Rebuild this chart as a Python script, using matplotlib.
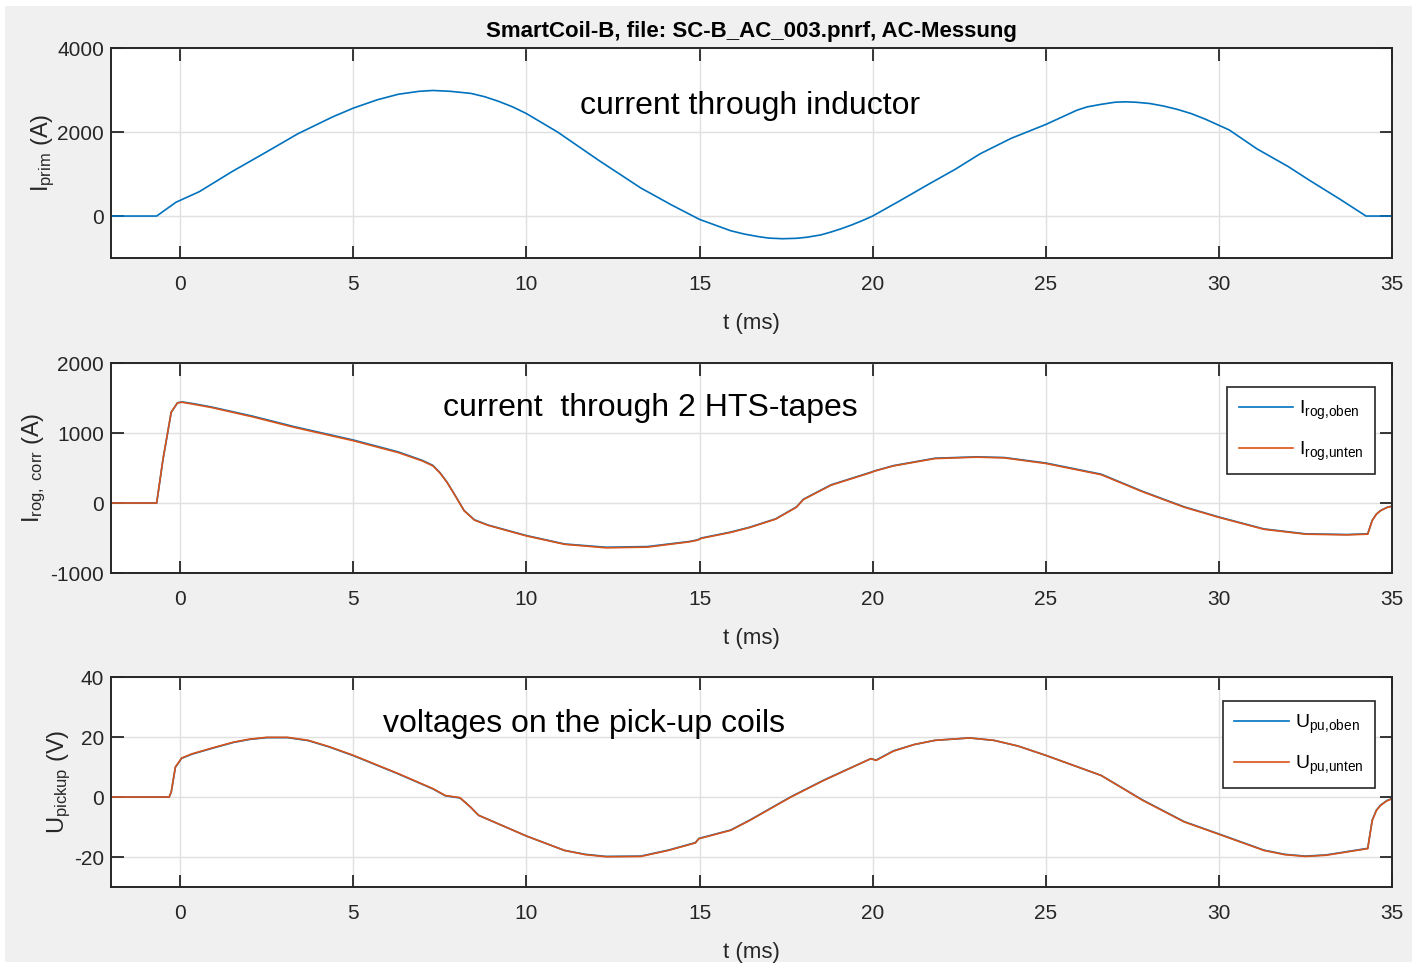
import matplotlib
matplotlib.use('Agg')
import matplotlib.pyplot as plt
from matplotlib.patches import Rectangle

# Primary current through the inductor
t_prim = [-2.0, -0.68, -0.12, 0.55, 1.5, 2.5, 3.4, 4.4, 5.0, 5.7, 6.3, 6.9, 7.3,
          7.8, 8.4, 8.8, 9.2, 9.6, 10.0, 10.9, 12.1, 13.3, 14.2, 15.0, 15.5,
          15.9, 16.3, 16.7, 17.0, 17.4, 17.8, 18.1, 18.5, 18.8, 19.1, 19.4,
          19.7, 20.0, 20.8, 21.6, 22.4, 23.1, 24.0, 25.0, 25.9, 26.2, 26.6,
          27.0, 27.3, 27.6, 28.0, 28.4, 28.8, 29.2, 29.6, 30.3, 31.1, 32.0,
          32.6, 33.5, 34.25, 35.0]
i_prim = [0, 0, 330, 580, 1060, 1530, 1960, 2360, 2570, 2770, 2900, 2970, 2990,
          2970, 2920, 2840, 2730, 2600, 2440, 2000, 1320, 670, 260, -80, -230,
          -350, -430, -490, -525, -540, -530, -505, -450, -380, -300, -210,
          -110, 0, 370, 750, 1120, 1480, 1850, 2180, 2520, 2600, 2660,
          2710, 2720, 2710, 2680, 2620, 2540, 2440, 2310, 2050, 1600, 1180,
          860, 400, 0, 0]

# Rogowski currents of the two HTS tapes
t_rog = [-2.0, -0.68, -0.5, -0.26, -0.08, 0.05, 0.4, 0.9, 2.1, 3.3, 5.0, 6.3,
         7.0, 7.3, 7.5, 7.7, 7.9, 8.2, 8.5, 8.9, 9.3, 10.0, 11.1, 12.3, 13.5,
         14.7, 14.95, 15.05, 15.9, 16.45, 17.2, 17.8, 18.0, 18.8, 19.95, 20.05,
         20.6, 21.8, 23.0, 23.8, 25.0, 26.6, 27.8, 29.0, 30.0, 31.3, 32.5, 33.7,
         34.3, 34.43, 34.55, 34.67, 34.85, 35.0]
i_rog_unten = [0, 0, 620, 1300, 1430, 1440, 1410, 1365, 1230, 1080, 890, 720,
               600, 530, 430, 300, 140, -110, -245, -320, -375, -470, -590,
               -640, -630, -555, -530, -505, -420, -350, -230, -60, 50, 255,
               435, 455, 530, 635, 655, 645, 565, 405, 160, -60, -205, -375,
               -445, -455, -445, -250, -160, -110, -65, -45]
i_rog_oben = [0, 0, 615, 1295, 1432, 1445, 1418, 1372, 1240, 1090, 900, 730,
              608, 537, 435, 303, 142, -108, -240, -316, -370, -465, -585,
              -632, -622, -550, -526, -500, -415, -345, -226, -56, 54, 260,
              440, 458, 534, 640, 660, 650, 572, 412, 166, -55, -200, -370,
              -440, -450, -440, -248, -158, -108, -64, -44]

# Pick-up coil voltages
t_pu = [-2.0, -0.32, -0.26, -0.14, 0.04, 0.34, 0.94, 1.54, 2.0, 2.5, 3.1, 3.7,
        4.3, 5.0, 6.3, 7.3, 7.66, 8.08, 8.38, 8.62, 10.0, 11.1, 11.7, 12.3,
        13.3, 14.1, 14.88, 14.98, 15.9, 16.45, 17.64, 18.6, 19.95, 20.1, 20.6,
        21.2, 21.8, 22.8, 23.5, 24.2, 25.0, 26.6, 27.8, 29.0, 30.0, 31.3,
        31.9, 32.5, 33.1, 33.7, 34.3, 34.43, 34.55, 34.67, 34.85, 35.0]
u_pu_unten = [0, 0, 1.7, 10, 13, 14.4, 16.4, 18.3, 19.3, 19.9, 19.9, 18.9,
              16.8, 13.9, 7.8, 2.8, 0.5, -0.2, -3.3, -6.1, -13, -17.8, -19.2,
              -19.9, -19.8, -17.8, -15.3, -13.9, -11.1, -7.8, 0, 5.6, 12.8,
              12.2, 15.3, 17.5, 18.9, 19.7, 18.9, 17.0, 13.9, 7.2, -1.1, -8.3,
              -12.4, -17.8, -19.2, -19.8, -19.4, -18.3, -17.2, -7.8, -4.5,
              -2.8, -1.3, -0.6]
u_pu_oben = [0, 0, 1.6, 9.9, 12.9, 14.3, 16.3, 18.2, 19.2, 19.8, 19.8, 18.8,
             16.7, 13.8, 7.7, 2.7, 0.4, -0.3, -3.3, -6.1, -13, -17.8, -19.1,
             -19.8, -19.7, -17.7, -15.2, -13.8, -11.0, -7.7, 0.1, 5.7, 12.8,
             12.3, 15.4, 17.5, 18.9, 19.7, 18.9, 17.0, 13.9, 7.2, -1.0, -8.2,
             -12.3, -17.7, -19.1, -19.7, -19.3, -18.2, -17.1, -7.7, -4.4,
             -2.7, -1.2, -0.5]

xticks = [0, 5, 10, 15, 20, 25, 30, 35]

plt.rcParams['font.family'] = ['Liberation Sans', 'DejaVu Sans']
plt.rcParams['mathtext.fontset'] = 'custom'
plt.rcParams['mathtext.rm'] = 'Liberation Sans'
plt.rcParams['mathtext.it'] = 'Liberation Sans'
plt.rcParams['axes.unicode_minus'] = False

blue = '#0072BD'
orange = '#D95319'
dark = '#262626'

fig = plt.figure(figsize=(14.12, 9.65), dpi=100, facecolor='white')
fig.patches.append(Rectangle((0.0035, 0.003), 1.0, 0.991, transform=fig.transFigure,
                             facecolor='#f0f0f0', edgecolor='none', zorder=-10))

left, width, height = 0.0786, 0.9072, 0.2176
bottoms = [0.7326, 0.4062, 0.0808]
axes = [fig.add_axes([left, b, width, height]) for b in bottoms]


def style(ax, ylim, yticks, ylabel, label_x):
    ax.set_xlim(-2, 35)
    ax.set_ylim(*ylim)
    ax.set_xticks(xticks)
    ax.set_yticks(yticks)
    ax.grid(True, color='#e0e0e0', linewidth=1.0)
    ax.set_axisbelow(True)
    ax.tick_params(direction='in', length=9, width=1.3, top=True, right=True,
                   colors=dark, labelsize=15)
    ax.tick_params(axis='x', pad=12)
    ax.tick_params(axis='y', pad=5)
    for sp in ax.spines.values():
        sp.set_linewidth(1.4)
        sp.set_color(dark)
    ax.set_xlabel('t (ms)', fontsize=16, color=dark, labelpad=14)
    ax.set_ylabel(ylabel, fontsize=17, color=dark)
    ax.yaxis.set_label_coords(label_x, 0.5)


ax1, ax2, ax3 = axes

ax1.plot(t_prim, i_prim, color=blue, lw=1.2)
style(ax1, (-1000, 4000), [0, 2000, 4000], r'I$_{\mathrm{prim}}$ (A)', -0.042)
ax1.set_title('SmartCoil-B, file: SC-B_AC_003.pnrf, AC-Messung',
              fontsize=16, fontweight='bold', color='black', pad=8)
ax1.text(11.56, 2620, 'current through inductor',
         fontsize=23, va='center', ha='left')

ax2.plot(t_rog, i_rog_oben, color=blue, lw=1.2, label=r'I$_{\mathrm{rog{,}oben}}$')
ax2.plot(t_rog, i_rog_unten, color=orange, lw=1.2, label=r'I$_{\mathrm{rog{,}unten}}$')
style(ax2, (-1000, 2000), [-1000, 0, 1000, 2000], r'I$_{\mathrm{rog,\ corr}}$ (A)', -0.049)
ax2.text(7.6, 1357, 'current  through 2 HTS-tapes',
         fontsize=23, va='center', ha='left')

ax3.plot(t_pu, u_pu_oben, color=blue, lw=1.2, label=r'U$_{\mathrm{pu{,}oben}}$')
ax3.plot(t_pu, u_pu_unten, color=orange, lw=1.2, label=r'U$_{\mathrm{pu{,}unten}}$')
style(ax3, (-30, 40), [-20, 0, 20, 40], r'U$_{\mathrm{pickup}}$ (V)', -0.030)
ax3.text(5.87, 24.4, 'voltages on the pick-up coils',
         fontsize=23, va='center', ha='left')

for ax in (ax2, ax3):
    leg = ax.legend(loc='upper right', bbox_to_anchor=(0.9867, 0.886),
                    borderaxespad=0, fontsize=14, handlelength=2.8,
                    handletextpad=0.3, labelspacing=0.9, borderpad=0.6,
                    fancybox=False, framealpha=1, edgecolor=dark)
    leg.get_frame().set_linewidth(1.2)

fig.savefig('out.png', dpi=100, facecolor=fig.get_facecolor())
